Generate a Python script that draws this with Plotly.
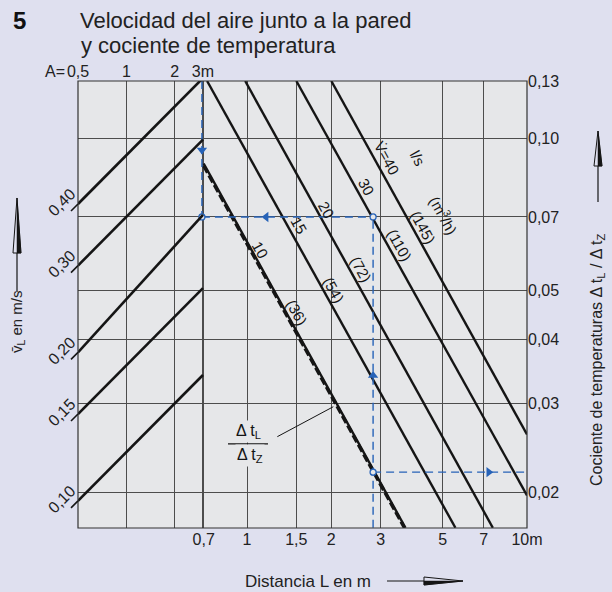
import numpy as np
import plotly.graph_objects as go

# ---------------- data ----------------
# bottom axis: distance L (m)
L_ticks = [0.7, 1, 1.5, 2, 3, 5, 7, 10]
L_ticktext = ["0,7", "1", "1,5", "2", "3", "5", "7", "10m"]
# top axis: A (m)
A_ticks = [0.5, 1, 2, 3]
A_ticktext = ["0,5", "1", "2", "3m"]
# right axis: temperature ratio
R_ticks = [0.02, 0.03, 0.04, 0.05, 0.07, 0.10, 0.13]
R_ticktext = ["0,02", "0,03", "0,04", "0,05", "0,07", "0,10", "0,13"]
# left axis: wall air velocity (m/s)
VL_ticks = [0.10, 0.15, 0.20, 0.30, 0.40]
VL_ticktext = ["0,10", "0,15", "0,20", "0,30", "0,40"]

# velocity lines between A = 0.5 m and A = 3 m
A_span = [0.5, 3.0]
vl_start = [0.40, 0.30, 0.20, 0.15, 0.10]
vl_end = [0.72, 0.54, 0.38, 0.27, 0.18]

# air flow lines (l/s and m3/h), end points as (L, ratio)
flow_ls = [10, 15, 20, 30, 40]
flow_m3h = [36, 54, 72, 110, 145]
flow_L0 = [0.70, 0.72, 0.985, 1.5, 2.0]
flow_r0 = [0.0893, 0.13, 0.13, 0.13, 0.13]
flow_L1 = [3.68, 5.55, 7.55, 10.0, 10.0]
flow_r1 = [0.017, 0.017, 0.017, 0.0197, 0.026]

# temperature ratio curve
dt_L = [0.70, 3.65]
dt_r = [0.0884, 0.017]

# worked example
ex_L_wall = 0.69
ex_L = 2.82
ex_r_top = 0.13
ex_r_bottom = 0.017
ex_r_flow = 0.07
ex_r_dt = 0.0219

# label positions (L, ratio)
lbl_flow_L = [1.12, 1.53, 1.93, 2.68, 3.14]
lbl_flow_r = [0.0602, 0.0672, 0.0722, 0.0802, 0.0916]
lbl_m3h_L = [1.51, 2.03, 2.55, 3.52, 4.25]
lbl_m3h_r = [0.0454, 0.0502, 0.0550, 0.0616, 0.0666]

# ---------------- style ----------------
page_bg = "#dfe0ef"
plot_bg = "#e6e7e9"
grid_c = "#4d4d4d"
ink = "#151515"
blue = "#2763b8"
FONT = "Liberation Sans, Arial, sans-serif"

ML, MR, MT, MB = 78, 85, 81, 64
W, H = 612, 592
PW, PH = W - ML - MR, H - MT - MB
VL_PX_PER_DECADE = 493.2


def px(x):
    return (x - ML) / PW


def py(y):
    return (H - MB - y) / PH


def path(points):
    s = "M " + " L ".join(f"{px(a):.5f},{py(b):.5f}" for a, b in points)
    return s + " Z"


def paper_text(x, y, text, size, angle=0, xanchor="center", color="#222"):
    return dict(x=px(x), y=py(y), xref="paper", yref="paper", text=text,
                showarrow=False, textangle=angle, xanchor=xanchor, yanchor="middle",
                font=dict(family=FONT, size=size, color=color))


fig = go.Figure()

# velocity lines (A / v_L system)
for s, e in zip(vl_start, vl_end):
    fig.add_trace(go.Scatter(x=A_span, y=[s, e], xaxis="x2", yaxis="y2", mode="lines",
                             line=dict(color=ink, width=2.6), hoverinfo="skip",
                             showlegend=False))

# air flow lines
for i in range(len(flow_ls)):
    fig.add_trace(go.Scatter(x=[flow_L0[i], flow_L1[i]], y=[flow_r0[i], flow_r1[i]],
                             mode="lines", line=dict(color=ink, width=2.4),
                             hoverinfo="skip", showlegend=False))

# temperature ratio curve (heavy dashed)
fig.add_trace(go.Scatter(x=dt_L, y=dt_r, mode="lines",
                         line=dict(color=ink, width=3.4, dash="8px,3px"),
                         hoverinfo="skip", showlegend=False))

# worked example in blue
bl = dict(color=blue, width=1.4, dash="8px,5px")
for xs, ys in [([ex_L_wall, ex_L_wall], [ex_r_top, ex_r_flow]),
               ([ex_L_wall, ex_L], [ex_r_flow, ex_r_flow]),
               ([ex_L, ex_L], [ex_r_bottom, ex_r_flow]),
               ([ex_L, 10.0], [ex_r_dt, ex_r_dt])]:
    fig.add_trace(go.Scatter(x=xs, y=ys, mode="lines", line=bl,
                             hoverinfo="skip", showlegend=False))
fig.add_trace(go.Scatter(x=[ex_L_wall, ex_L, ex_L], y=[ex_r_flow, ex_r_flow, ex_r_dt],
                         mode="markers",
                         marker=dict(symbol="circle", size=6, color=plot_bg,
                                     line=dict(color=blue, width=1.3)),
                         hoverinfo="skip", showlegend=False))
fig.add_trace(go.Scatter(x=[ex_L_wall, 1.17, ex_L, 7.3],
                         y=[0.095, ex_r_flow, 0.034, ex_r_dt],
                         mode="markers",
                         marker=dict(symbol=["triangle-down", "triangle-left",
                                             "triangle-up", "triangle-right"],
                                     size=9, color=blue),
                         hoverinfo="skip", showlegend=False))

annotations = []
lab_font = dict(family=FONT, size=15, color=ink)
for i in range(len(flow_ls)):
    txt = str(flow_ls[i]) if i < 4 else "V\u0307=40"
    annotations.append(dict(x=np.log10(lbl_flow_L[i]), y=np.log10(lbl_flow_r[i]),
                            xref="x", yref="y", text=txt, showarrow=False,
                            textangle=61, font=lab_font))
    annotations.append(dict(x=np.log10(lbl_m3h_L[i]), y=np.log10(lbl_m3h_r[i]),
                            xref="x", yref="y", text=f"({flow_m3h[i]})",
                            showarrow=False, textangle=61, font=lab_font))
annotations.append(dict(x=np.log10(4.05), y=np.log10(0.0916), xref="x", yref="y",
                        text="l/s", showarrow=False, textangle=61, font=lab_font))
annotations.append(dict(x=np.log10(5.09), y=np.log10(0.0706), xref="x", yref="y",
                        text="(m<sup>3</sup>/h)", showarrow=False, textangle=61,
                        font=lab_font))

# fraction label for the temperature ratio curve
frac_font = dict(family=FONT, size=16, color=ink)
annotations.append(dict(x=np.log10(1.008), y=np.log10(0.0263), xref="x", yref="y",
                        text="\u0394 t<sub>L</sub>", showarrow=False, font=frac_font,
                        bgcolor=plot_bg))
annotations.append(dict(x=np.log10(1.025), y=np.log10(0.0236), xref="x", yref="y",
                        text="\u0394 t<sub>Z</sub>", showarrow=False, font=frac_font,
                        bgcolor=plot_bg))

# heading and axis titles
annotations += [
    paper_text(19, 21, "<b>5</b>", 24, color="#111"),
    paper_text(78, 21, "Velocidad del aire junto a la pared", 22, xanchor="left"),
    paper_text(79, 46, "y cociente de temperatura", 22, xanchor="left"),
    paper_text(67, 71, "A=", 16, xanchor="right"),
    paper_text(17, 322, "v\u0304<sub>L</sub> en m/s", 15, angle=-90),
    paper_text(597, 360,
               "Cociente de temperaturas \u0394 t<sub>L</sub> / \u0394 t<sub>Z</sub>",
               16, angle=-90),
    paper_text(308, 581, "Distancia L en m", 17),
]

shapes = [
    # plot frame
    dict(type="rect", xref="paper", yref="paper", x0=0, y0=0, x1=1, y1=1,
         line=dict(color="#333", width=1.2), layer="above"),
    # fraction bar and leader line
    dict(type="line", xref="x", yref="y", x0=0.855, x1=1.188, y0=0.0249, y1=0.0249,
         line=dict(color=ink, width=1.2)),
    dict(type="line", xref="x", yref="y", x0=1.283, x1=2.033, y0=0.02574, y1=0.0295,
         line=dict(color=ink, width=1)),
]

# slanted tick stubs on the velocity axis, continuing the velocity lines
for v in VL_ticks:
    shapes.append(dict(type="line", xref="paper", yref="y2",
                       x0=px(ML - 7), y0=v * 10 ** (-7 / VL_PX_PER_DECADE),
                       x1=0, y1=v, line=dict(color=ink, width=1.6)))

# axis-title arrows
arrow_line = dict(color=ink, width=1.2)
for (sx0, sy0, sx1, sy1), outline, filled in [
    ((17, 292, 17, 253), [(13, 253), (21, 253), (17, 198)], [(17, 253), (21, 253), (17, 198)]),
    ((598, 202, 598, 166), [(594, 166), (602, 166), (598, 131)], [(598, 166), (602, 166), (598, 131)]),
    ((387, 581, 424, 581), [(424, 577), (424, 585), (463, 581)], [(424, 581), (424, 585), (463, 581)]),
]:
    shapes.append(dict(type="line", xref="paper", yref="paper", x0=px(sx0), y0=py(sy0),
                       x1=px(sx1), y1=py(sy1), line=arrow_line))
    shapes.append(dict(type="path", xref="paper", yref="paper", path=path(outline),
                       fillcolor=page_bg, line=dict(color=ink, width=1)))
    shapes.append(dict(type="path", xref="paper", yref="paper", path=path(filled),
                       fillcolor=ink, line=dict(color=ink, width=0.5)))

tick_font = dict(family=FONT, size=16, color="#222")
A_lo = np.log10(0.5)
A_hi = A_lo + PW / 160.6

fig.update_layout(
    width=W, height=H,
    margin=dict(l=ML, r=MR, t=MT, b=MB),
    paper_bgcolor=page_bg, plot_bgcolor=plot_bg,
    showlegend=False,
    xaxis=dict(type="log", range=[np.log10(0.249), 1.0], tickvals=L_ticks,
               ticktext=L_ticktext, showgrid=True, gridcolor=grid_c, gridwidth=1,
               zeroline=False, showline=False, ticks="", tickfont=tick_font,
               anchor="y", side="bottom"),
    xaxis2=dict(type="log", range=[A_lo, A_hi], tickvals=A_ticks, ticktext=A_ticktext,
                showgrid=True, gridcolor=grid_c, gridwidth=1, zeroline=False,
                ticks="", tickfont=tick_font, overlaying="x", side="top", anchor="y"),
    yaxis=dict(type="log", range=[-1.770, -0.886], tickvals=R_ticks,
               ticktext=R_ticktext, showgrid=True, gridcolor=grid_c, gridwidth=1,
               zeroline=False, ticks="", tickfont=tick_font, side="right",
               anchor="x"),
    yaxis2=dict(type="log", range=[-1.055, -0.1486],
                tickvals=VL_ticks, ticktext=VL_ticktext, showgrid=False,
                zeroline=False, ticks="", ticklabelstandoff=6, ticklabelshift=-12,
                tickangle=-45, tickfont=tick_font, overlaying="y", side="left",
                anchor="x"),
    annotations=annotations,
    shapes=shapes,
)

fig.write_html("out.html")
